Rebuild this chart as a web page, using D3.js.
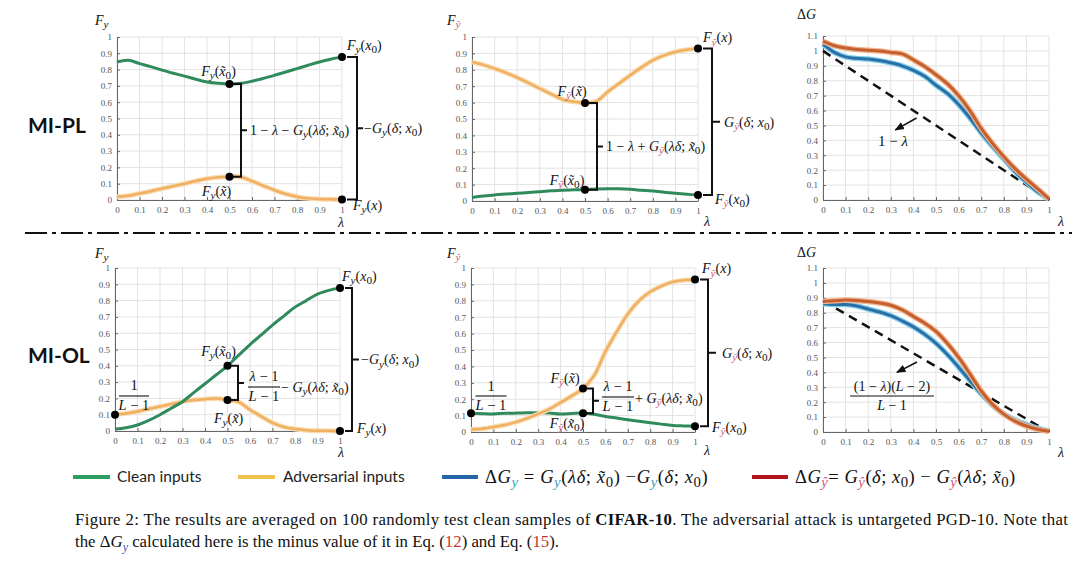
<!DOCTYPE html>
<html><head><meta charset="utf-8">
<script src="https://cdn.jsdelivr.net/npm/d3@7"></script>
<style>body{margin:0;background:#fff}svg{display:block}</style>
</head><body><svg id="c" width="1080" height="562"></svg>
<script>
// ---------------- DATA ----------------
const lam = [0,0.05,0.1,0.15,0.2,0.25,0.3,0.35,0.4,0.45,0.5,0.55,0.6,0.65,0.7,0.75,0.8,0.85,0.9,0.95,1];
const xTicks = [0,0.1,0.2,0.3,0.4,0.5,0.6,0.7,0.8,0.9,1];
const xTickLabels = ["0","0.1","0.2","0.3","0.4","0.5","0.6","0.7","0.8","0.9","1"];
const yTicksF = [0,0.1,0.2,0.3,0.4,0.5,0.6,0.7,0.8,0.9,1];
const yTickLabelsF = ["0","0.1","0.2","0.3","0.4","0.5","0.6","0.7","0.8","0.9","1"];
const yTicksG = [0,0.1,0.2,0.3,0.4,0.5,0.6,0.7,0.8,0.9,1,1.1];
const yTickLabelsG = ["0","0.1","0.2","0.3","0.4","0.5","0.6","0.7","0.8","0.9","1","1.1"];

// MI-PL, F_y
const plFy_clean = [0.847,0.857,0.837,0.818,0.797,0.778,0.760,0.741,0.724,0.716,0.712,0.716,0.729,0.746,0.765,0.785,0.806,0.827,0.847,0.864,0.878];
const plFy_adv   = [0.020,0.026,0.040,0.054,0.070,0.085,0.100,0.116,0.130,0.139,0.143,0.141,0.116,0.088,0.060,0.037,0.020,0.010,0.006,0.004,0.003];
// MI-PL, F_yhat
const plFyh_adv   = [0.848,0.830,0.807,0.782,0.753,0.720,0.686,0.652,0.620,0.605,0.598,0.608,0.665,0.716,0.767,0.815,0.858,0.888,0.909,0.922,0.930];
const plFyh_clean = [0.022,0.030,0.037,0.042,0.047,0.052,0.057,0.062,0.066,0.068,0.070,0.073,0.075,0.074,0.071,0.066,0.061,0.054,0.047,0.041,0.036];
// MI-PL, Delta G
const plDG_y    = [1.045,0.990,0.960,0.950,0.945,0.935,0.920,0.900,0.870,0.830,0.770,0.715,0.640,0.550,0.450,0.360,0.275,0.190,0.120,0.055,0.006];
const plDG_yhat = [1.065,1.035,1.020,1.010,1.005,1.000,0.990,0.980,0.940,0.895,0.840,0.780,0.700,0.600,0.480,0.380,0.290,0.210,0.140,0.075,0.008];
const plDashed  = [[0,1],[1,0]];
// MI-OL, F_y
const olFy_clean = [0.012,0.020,0.037,0.065,0.100,0.140,0.180,0.235,0.290,0.345,0.400,0.465,0.530,0.590,0.650,0.705,0.760,0.800,0.840,0.863,0.878];
const olFy_adv   = [0.100,0.108,0.120,0.135,0.150,0.165,0.180,0.190,0.195,0.200,0.190,0.178,0.130,0.090,0.050,0.025,0.012,0.005,0.002,0.001,0.000];
// MI-OL, F_yhat
const olFyh_adv   = [0.016,0.020,0.030,0.043,0.060,0.083,0.110,0.140,0.180,0.220,0.265,0.345,0.490,0.610,0.720,0.800,0.855,0.890,0.915,0.926,0.930];
const olFyh_clean = [0.115,0.112,0.110,0.114,0.115,0.117,0.118,0.116,0.110,0.113,0.115,0.108,0.095,0.085,0.075,0.066,0.057,0.048,0.040,0.037,0.035];
// MI-OL, Delta G
const olDG_y    = [0.860,0.855,0.855,0.845,0.825,0.805,0.780,0.745,0.705,0.655,0.595,0.520,0.435,0.345,0.255,0.180,0.120,0.080,0.050,0.025,0.007];
const olDG_yhat = [0.875,0.880,0.885,0.882,0.875,0.865,0.850,0.820,0.775,0.730,0.675,0.595,0.500,0.390,0.275,0.185,0.120,0.072,0.040,0.018,0.005];
const olDashed  = [[0,0.88],[1,0]];

// marked points
const plFyPts  = [[0.5,0.712],[0.5,0.143],[1,0.878],[1,0.003]];
const plFyhPts = [[0.5,0.598],[0.5,0.068],[1,0.930],[1,0.037]];
const olFyPts  = [[0,0.10],[0.5,0.40],[0.5,0.19],[1,0.878],[1,0.0]];
const olFyhPts = [[0,0.115],[0.5,0.265],[0.5,0.115],[1,0.930],[1,0.035]];

const legendLabels = ["Clean inputs","Adversarial inputs"];

// ---------------- STYLE ----------------
const SERIF = "'Liberation Serif','Times New Roman',serif";
const SANS = "Lato,'Open Sans',sans-serif";
const GREEN = "#2f8a5c", ORANGE = "#efb062", ORANGE_H = "#f9dcb4";
const BLUE = "#2c6ea6", BLUE_H = "#84d2ec", RED = "#c4602f", RED_H = "#f3b48e";
const PINK = "#cc5c7c", TEAL = "#3d9cc6";

const svg = d3.select("#c");
const defs = svg.append("defs");
defs.append("marker").attr("id","arr").attr("viewBox","0 0 10 10").attr("refX",9).attr("refY",5)
  .attr("markerWidth",6).attr("markerHeight",6).attr("orient","auto")
  .append("path").attr("d","M0,1 L10,5 L0,9 Z").attr("fill","#111");

function panel(p){
  const x = d3.scaleLinear().domain([0,1]).range([p.x0,p.x1]);
  const y = d3.scaleLinear().domain([0,p.ymax]).range([p.yb,p.yt]);
  const g = svg.append("g");
  g.selectAll(null).data(xTicks).join("line")
    .attr("x1",d=>x(d)).attr("x2",d=>x(d)).attr("y1",p.yb).attr("y2",p.yt)
    .attr("stroke","#e2e2e2").attr("stroke-width",1);
  g.selectAll(null).data(p.yticks).join("line")
    .attr("y1",d=>y(d)).attr("y2",d=>y(d)).attr("x1",p.x0).attr("x2",p.x1)
    .attr("stroke","#e2e2e2").attr("stroke-width",1);
  const ax = d3.axisBottom(x).tickValues(xTicks).tickFormat((d,i)=>xTickLabels[i])
    .tickSizeInner(-3).tickSizeOuter(0).tickPadding(7);
  const ay = d3.axisLeft(y).tickValues(p.yticks).tickFormat((d,i)=>p.ylabels[i])
    .tickSizeInner(-3).tickSizeOuter(0).tickPadding(5);
  [g.append("g").attr("transform",`translate(0,${p.yb})`).call(ax),
   g.append("g").attr("transform",`translate(${p.x0},0)`).call(ay)].forEach(a=>{
    a.select(".domain").attr("stroke","#666");
    a.selectAll(".tick line").attr("stroke","#666");
    a.selectAll("text").attr("font-family",SERIF).attr("font-size",9).attr("fill","#555");
  });
  return {x,y,g};
}

function curve(P, vals, color, halo, w){
  const line = d3.line().x((d,i)=>P.x(lam[i])).y(d=>P.y(d)).curve(d3.curveCatmullRom.alpha(0.5));
  if (halo) P.g.append("path").attr("d",line(vals)).attr("fill","none").attr("stroke",halo).attr("stroke-width",w+2.5).attr("stroke-linejoin","round");
  P.g.append("path").attr("d",line(vals)).attr("fill","none").attr("stroke",color).attr("stroke-width",w).attr("stroke-linejoin","round");
}

function dots(P, pts){
  P.g.selectAll(null).data(pts).join("circle")
    .attr("cx",d=>P.x(d[0])).attr("cy",d=>P.y(d[1])).attr("r",4).attr("fill","#000");
}

function mt(g, x, y, parts, size, anchor, ls){
  const t = g.append("text").attr("x",x).attr("y",y).attr("font-family",SERIF)
    .attr("font-size",size).attr("fill","#111").attr("text-anchor",anchor||"start");
  if (ls) t.attr("letter-spacing",ls);
  let shift = 0;
  parts.forEach(([s,f,c])=>{
    f = f||"";
    const ts = t.append("tspan").text(s);
    const sub = f.includes("s");
    const target = sub ? size*0.22 : 0;
    if (target !== shift){ ts.attr("dy", target-shift); shift = target; }
    if (sub) ts.attr("font-size", size*0.8);
    if (f.includes("i")) ts.attr("font-style","italic");
    if (c) ts.attr("fill",c);
  });
  return t;
}
// math pieces
const Fy = [["F","i"],["y","si"]];
const Fyh = [["F","i"],["ŷ","si",PINK]];
const Gy = [["G","i"],["y","si"]];
const Gyh = [["G","i"],["ŷ","si",PINK]];
const aX0T = [["("],["x̃","i"],["0","s"],[")"]];
const aXT = [["("],["x̃","i"],[")"]];
const aX0 = [["("],["x","i"],["0","s"],[")"]];
const aX = [["("],["x","i"],[")"]];
const aLdX0T = [["("],["λδ","i"],["; "],["x̃","i"],["0","s"],[")"]];
const aDX0 = [["("],["δ","i"],["; "],["x","i"],["0","s"],[")"]];

function bracket(g, xa, ya, yb, xb, tick){
  const ym = (ya+yb)/2;
  g.append("path").attr("d",`M${xa},${ya} H${xb} V${yb} H${xa} M${xb},${ym} H${xb+tick}`)
    .attr("fill","none").attr("stroke","#111").attr("stroke-width",2);
  return ym;
}
function frac(g, cx, yNum, yBar, yDen, num, den, w, size){
  mt(g, cx, yNum, num, size, "middle");
  g.append("line").attr("x1",cx-w/2).attr("x2",cx+w/2).attr("y1",yBar).attr("y2",yBar).attr("stroke","#111").attr("stroke-width",1.1);
  mt(g, cx, yDen, den, size, "middle");
}
function axisTitles(g, xt, yt, title, xl, yl){
  mt(g, xt, yt, title, 14, "start");
  mt(g, xl, yl, [["λ","i"]], 14, "middle");
}
const FS = 14;

// ---------------- TOP ROW (MI-PL) ----------------
{
  const P = panel({x0:117,x1:342,yt:37,yb:200,ymax:1,yticks:yTicksF,ylabels:yTickLabelsF});
  curve(P, plFy_clean, GREEN, null, 3);
  curve(P, plFy_adv, ORANGE, ORANGE_H, 2.5);
  dots(P, plFyPts);
  const [a,b,c,d] = plFyPts.map(q=>[P.x(q[0]),P.y(q[1])]);
  let ym = bracket(P.g, a[0]+3, a[1], b[1], 241, 6);
  mt(P.g, 250, ym+5, [["1 − "],["λ","i"],[" − "],...Gy,...aLdX0T], FS);
  ym = bracket(P.g, c[0]+5, c[1], d[1], 357, 6);
  mt(P.g, 364, ym+5, [["−"],...Gy,...aDX0], FS);
  mt(P.g, a[0]-11, a[1]-8, [...Fy,...aX0T], FS, "middle");
  mt(P.g, b[0]-13, b[1]+19, [...Fy,...aXT], FS, "middle");
  mt(P.g, 347, c[1]-7, [...Fy,...aX0], FS);
  mt(P.g, 353, d[1]+10, [...Fy,...aX], FS);
  axisTitles(P.g, 95, 25, Fy, 341, 227);
}
{
  const P = panel({x0:472,x1:698,yt:37,yb:201,ymax:1,yticks:yTicksF,ylabels:yTickLabelsF});
  curve(P, plFyh_clean, GREEN, null, 3);
  curve(P, plFyh_adv, ORANGE, ORANGE_H, 2.5);
  dots(P, plFyhPts);
  const [a,b,c,d] = plFyhPts.map(q=>[P.x(q[0]),P.y(q[1])]);
  let ym = bracket(P.g, a[0]+3, a[1], b[1], 597, 6);
  mt(P.g, 606, ym+5, [["1 − "],["λ","i"],[" + "],...Gyh,...aLdX0T], FS);
  ym = bracket(P.g, c[0]+5, c[1], d[1], 712, 8);
  mt(P.g, 724, ym+5, [...Gyh,...aDX0], FS);
  mt(P.g, a[0]-13, a[1]-7, [...Fyh,...aXT], FS, "middle");
  mt(P.g, a[0]-18, b[1]-5, [...Fyh,...aX0T], FS, "middle");
  mt(P.g, 703, c[1]-6, [...Fyh,...aX], FS);
  mt(P.g, 715, d[1]+9, [...Fyh,...aX0], FS);
  axisTitles(P.g, 447, 25, Fyh, 707, 226);
}
{
  const P = panel({x0:823,x1:1049,yt:36,yb:200,ymax:1.1,yticks:yTicksG,ylabels:yTickLabelsG});
  P.g.append("path").attr("d",d3.line().x(d=>P.x(d[0])).y(d=>P.y(d[1]))(plDashed))
    .attr("stroke","#111").attr("stroke-width",2.5).attr("stroke-dasharray","9,6").attr("fill","none");
  curve(P, plDG_y, BLUE, BLUE_H, 3);
  curve(P, plDG_yhat, RED, RED_H, 3);
  P.g.append("line").attr("x1",P.x(0.414)).attr("y1",P.y(0.55)).attr("x2",P.x(0.32)).attr("y2",P.y(0.47))
    .attr("stroke","#111").attr("stroke-width",1.6).attr("marker-end","url(#arr)");
  mt(P.g, 893, 146, [["1 − "],["λ","i"]], 15, "middle");
  axisTitles(P.g, 797, 19, [["Δ"],["G","i"]], 1061, 226);
}

// separator
svg.append("line").attr("x1",25).attr("x2",1072).attr("y1",233).attr("y2",233)
  .attr("stroke","#111").attr("stroke-width",2).attr("stroke-dasharray","22,5,4,5");

// ---------------- BOTTOM ROW (MI-OL) ----------------
{
  const P = panel({x0:115,x1:340,yt:268,yb:431,ymax:1,yticks:yTicksF,ylabels:yTickLabelsF});
  curve(P, olFy_adv, ORANGE, ORANGE_H, 2.5);
  curve(P, olFy_clean, GREEN, null, 3);
  dots(P, olFyPts);
  const [o,a,b,c,d] = olFyPts.map(q=>[P.x(q[0]),P.y(q[1])]);
  frac(P.g, 134, 390, 396, 410, [["1"]], [["L","i"],[" − 1"]], 30, 14.5);
  let ym = bracket(P.g, a[0]+3, a[1], b[1], 238, 6);
  frac(P.g, 264, 381, 387, 401, [["λ","i"],[" − 1"]], [["L","i"],[" − 1"]], 32, 14.5);
  mt(P.g, 281, 392, [[" − "],...Gy,...aLdX0T], FS);
  ym = bracket(P.g, c[0]+5, c[1], d[1], 352, 7);
  mt(P.g, 361, ym+5, [["−"],...Gy,...aDX0], FS);
  mt(P.g, a[0]-9, a[1]-10, [...Fy,...aX0T], FS, "middle");
  mt(P.g, b[0]+1, b[1]+23, [...Fy,...aXT], FS, "middle");
  mt(P.g, 342, c[1]-7, [...Fy,...aX0], FS);
  mt(P.g, 357, d[1]+2, [...Fy,...aX], FS);
  axisTitles(P.g, 95, 258, Fy, 341, 457);
}
{
  const P = panel({x0:471,x1:695,yt:268,yb:432,ymax:1,yticks:yTicksF,ylabels:yTickLabelsF});
  curve(P, olFyh_clean, GREEN, null, 3);
  curve(P, olFyh_adv, ORANGE, ORANGE_H, 2.5);
  dots(P, olFyhPts);
  const [o,a,b,c,d] = olFyhPts.map(q=>[P.x(q[0]),P.y(q[1])]);
  frac(P.g, 491, 391, 396, 410, [["1"]], [["L","i"],[" − 1"]], 31, 14.5);
  let ym = bracket(P.g, a[0]+3, a[1], b[1], 593, 6);
  frac(P.g, 618, 391, 397, 411, [["λ","i"],[" − 1"]], [["L","i"],[" − 1"]], 32, 14.5);
  mt(P.g, 635, 403, [[" + "],...Gyh,...aLdX0T], FS);
  ym = bracket(P.g, c[0]+5, c[1], d[1], 708, 8);
  mt(P.g, 722, ym+5, [...Gyh,...aDX0], FS);
  mt(P.g, a[0]-18, a[1]-6, [...Fyh,...aXT], FS, "middle");
  mt(P.g, a[0]-16, b[1]+15, [...Fyh,...aX0T], FS, "middle");
  mt(P.g, 702, c[1]-6, [...Fyh,...aX], FS);
  mt(P.g, 712, d[1]+6, [...Fyh,...aX0], FS);
  axisTitles(P.g, 447, 258, Fyh, 707, 455);
}
{
  const P = panel({x0:823,x1:1049,yt:268,yb:432,ymax:1.1,yticks:yTicksG,ylabels:yTickLabelsG});
  P.g.append("path").attr("d",d3.line().x(d=>P.x(d[0])).y(d=>P.y(d[1]))(olDashed))
    .attr("stroke","#111").attr("stroke-width",2.5).attr("stroke-dasharray","9,6").attr("fill","none");
  curve(P, olDG_y, BLUE, BLUE_H, 3);
  curve(P, olDG_yhat, RED, RED_H, 3);
  P.g.append("line").attr("x1",P.x(0.416)).attr("y1",P.y(0.47)).attr("x2",P.x(0.327)).attr("y2",P.y(0.40))
    .attr("stroke","#111").attr("stroke-width",1.6).attr("marker-end","url(#arr)");
  frac(P.g, 892, 391, 396, 410, [["(1 − "],["λ","i"],[")("],["L","i"],[" − 2)"]], [["L","i"],[" − 1"]], 84, 14);
  axisTitles(P.g, 797, 257, [["Δ"],["G","i"]], 1061, 457);
}

// row labels
svg.append("text").attr("x",28).attr("y",133).text("MI-PL").attr("font-family",SANS).attr("font-weight",700).attr("font-size",21).attr("fill","#111");
svg.append("text").attr("x",28).attr("y",363).text("MI-OL").attr("font-family",SANS).attr("font-weight",700).attr("font-size",21).attr("fill","#111");

// ---------------- LEGEND ----------------
const lg = svg.append("g");
const legY = 477;
[[73,110,"#2da061"],[238,275,"#f2c14c"],[442,478,"#2565a8"],[752,788,"#b3151b"]].forEach(([a,b,c])=>{
  lg.append("line").attr("x1",a).attr("x2",b).attr("y1",legY).attr("y2",legY).attr("stroke",c).attr("stroke-width",4);
});
lg.append("text").attr("x",117).attr("y",legY+5).text(legendLabels[0]).attr("font-family",SANS).attr("font-size",15.5).attr("fill","#222");
lg.append("text").attr("x",283).attr("y",legY+5).text(legendLabels[1]).attr("font-family",SANS).attr("font-size",15.5).attr("fill","#222");
mt(lg, 485, legY+6, [["Δ"],["G","i"],["y","si",TEAL],[" = "],["G","i"],["y","si",TEAL],["("],["λδ","i"],["; "],["x̃","i"],["0","s"],[") −"],["G","i"],["y","si",TEAL],["("],["δ","i"],["; "],["x","i"],["0","s"],[")"]], 18.5, "start", 0.6);
mt(lg, 795, legY+6, [["Δ"],["G","i"],["ŷ","si",PINK],["= "],["G","i"],["ŷ","si",PINK],["("],["δ","i"],["; "],["x","i"],["0","s"],[") − "],["G","i"],["ŷ","si",PINK],["("],["λδ","i"],["; "],["x̃","i"],["0","s"],[")"]], 18.5, "start", 0.5);

// ---------------- CAPTION ----------------
const cap1 = svg.append("text").attr("x",75).attr("y",525).attr("font-family",SERIF).attr("font-size",16.8).attr("fill","#111")
  .attr("textLength",993).attr("lengthAdjust","spacing");
cap1.append("tspan").text("Figure 2: The results are averaged on 100 randomly test clean samples of ");
cap1.append("tspan").text("CIFAR-10").attr("font-weight",700);
cap1.append("tspan").text(". The adversarial attack is untargeted PGD-10. Note that");
const cap2 = svg.append("text").attr("x",75).attr("y",547).attr("font-family",SERIF).attr("font-size",16.8).attr("fill","#111");
cap2.append("tspan").text("the Δ");
cap2.append("tspan").text("G").attr("font-style","italic");
cap2.append("tspan").text("y").attr("font-style","italic").attr("fill","#3355bb").attr("font-size",12).attr("dy",4);
cap2.append("tspan").text(" calculated here is the minus value of it in Eq. (").attr("dy",-4);
cap2.append("tspan").text("12").attr("fill","#c0392b");
cap2.append("tspan").text(") and Eq. (");
cap2.append("tspan").text("15").attr("fill","#c0392b");
cap2.append("tspan").text(").");
</script></body></html>
